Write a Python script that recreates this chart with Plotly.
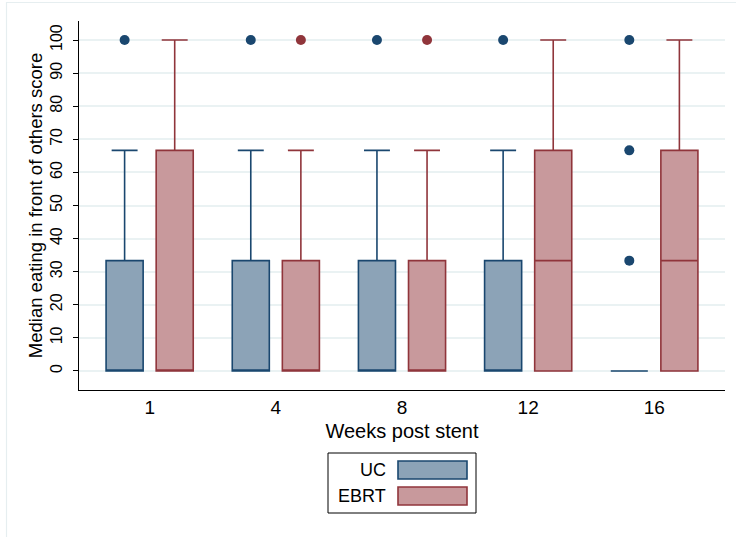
import plotly.graph_objects as go

# Weeks after stent placement (categories)
weeks = ["1", "4", "8", "12", "16"]

# Precomputed box statistics, UC group
uc_q1 = [0, 0, 0, 0, 0]
uc_median = [0, 0, 0, 0, 0]
uc_q3 = [33.33, 33.33, 33.33, 33.33, 0]
uc_lower = [0, 0, 0, 0, 0]
uc_upper = [66.67, 66.67, 66.67, 66.67, 0]
uc_points = [[0, 100], [0, 100], [0, 100], [0, 100], [0, 33.33, 66.67, 100]]

# Precomputed box statistics, EBRT group
ebrt_q1 = [0, 0, 0, 0, 0]
ebrt_median = [0, 0, 0, 33.33, 33.33]
ebrt_q3 = [66.67, 33.33, 33.33, 66.67, 66.67]
ebrt_lower = [0, 0, 0, 0, 0]
ebrt_upper = [100, 66.67, 66.67, 100, 100]
ebrt_points = [[0], [0, 100], [0, 100], [0], [0]]

y_ticks = [0, 10, 20, 30, 40, 50, 60, 70, 80, 90, 100]

FONT = "Liberation Sans, Arial, Helvetica, sans-serif"
NAVY = "#1a476f"
NAVY_FILL = "#8ca3b7"
MAROON = "#90353b"
MAROON_FILL = "#c8999c"

W, H = 736, 537
ML, MR, MT, MB = 79, 11, 21, 147
PW, PH = W - ML - MR, H - MT - MB


def px(x):
    return (x - ML) / PW


def py(y):
    return (H - MB - y) / PH


fig = go.Figure()


def add_group(name, q1, med, q3, lo, hi, pts, line_c, fill_c):
    fig.add_trace(go.Box(
        name=name,
        x=weeks,
        y=pts,
        q1=q1, median=med, q3=q3,
        lowerfence=lo, upperfence=hi,
        boxpoints="outliers",
        jitter=0, pointpos=0,
        marker=dict(color=line_c, size=10, line=dict(width=0)),
        line=dict(color=line_c, width=1.6),
        fillcolor=fill_c,
        whiskerwidth=0.7,
        showlegend=False,
        hoverinfo="skip",
    ))


add_group("UC", uc_q1, uc_median, uc_q3, uc_lower, uc_upper, uc_points,
          NAVY, NAVY_FILL)
add_group("EBRT", ebrt_q1, ebrt_median, ebrt_q3, ebrt_lower, ebrt_upper,
          ebrt_points, MAROON, MAROON_FILL)

shapes = []
annotations = []

# Outer graph-region frame
shapes.append(dict(type="rect", xref="paper", yref="paper",
                   x0=px(6.5), x1=px(760), y0=py(560), y1=py(2.5),
                   line=dict(color="#e6eef0", width=1.2),
                   fillcolor="rgba(0,0,0,0)", layer="below"))

# Legend box (labels left, keys right)
shapes.append(dict(type="rect", xref="paper", yref="paper",
                   x0=px(328), x1=px(476), y0=py(513), y1=py(453),
                   line=dict(color="black", width=1),
                   fillcolor="white"))
legend_items = [("UC", NAVY, NAVY_FILL, 470), ("EBRT", MAROON, MAROON_FILL, 496)]
for label, lc, fc, yc in legend_items:
    shapes.append(dict(type="rect", xref="paper", yref="paper",
                       x0=px(398), x1=px(467), y0=py(yc + 9), y1=py(yc - 9),
                       line=dict(color=lc, width=1.6), fillcolor=fc))
    annotations.append(dict(text=label, xref="paper", yref="paper",
                            x=px(388), y=py(yc), xanchor="right",
                            yanchor="middle", showarrow=False,
                            font=dict(family=FONT, size=18, color="black")))

fig.update_layout(
    width=W, height=H,
    margin=dict(l=ML, r=MR, t=MT, b=MB),
    paper_bgcolor="white",
    plot_bgcolor="white",
    boxmode="group",
    boxgap=0.206,
    boxgroupgap=0.26,
    font=dict(family=FONT, size=15, color="black"),
    shapes=shapes,
    annotations=annotations,
    showlegend=False,
    xaxis=dict(
        type="category",
        categoryorder="array",
        categoryarray=weeks,
        range=[-0.56, 4.56],
        showgrid=False,
        showline=True, linecolor="black", linewidth=1.2,
        ticks="",
        tickfont=dict(family=FONT, size=19),
        title=dict(text="Weeks post stent", standoff=7,
                   font=dict(family=FONT, size=20)),
        zeroline=False,
    ),
    yaxis=dict(
        range=[-5.76, 105.76],
        tickvals=y_ticks,
        ticktext=[str(v) for v in y_ticks],
        tickangle=-90,
        ticks="outside", ticklen=5, tickcolor="black", tickwidth=1,
        ticklabelstandoff=5,
        showgrid=True, gridcolor="#eaf2f3", gridwidth=1.5,
        showline=True, linecolor="black", linewidth=1.2,
        zeroline=False,
        tickfont=dict(family=FONT, size=16),
        title=dict(text="Median eating in front of others score", standoff=0,
                   font=dict(family=FONT, size=18.5)),
    ),
)

fig.write_html("out.html")
